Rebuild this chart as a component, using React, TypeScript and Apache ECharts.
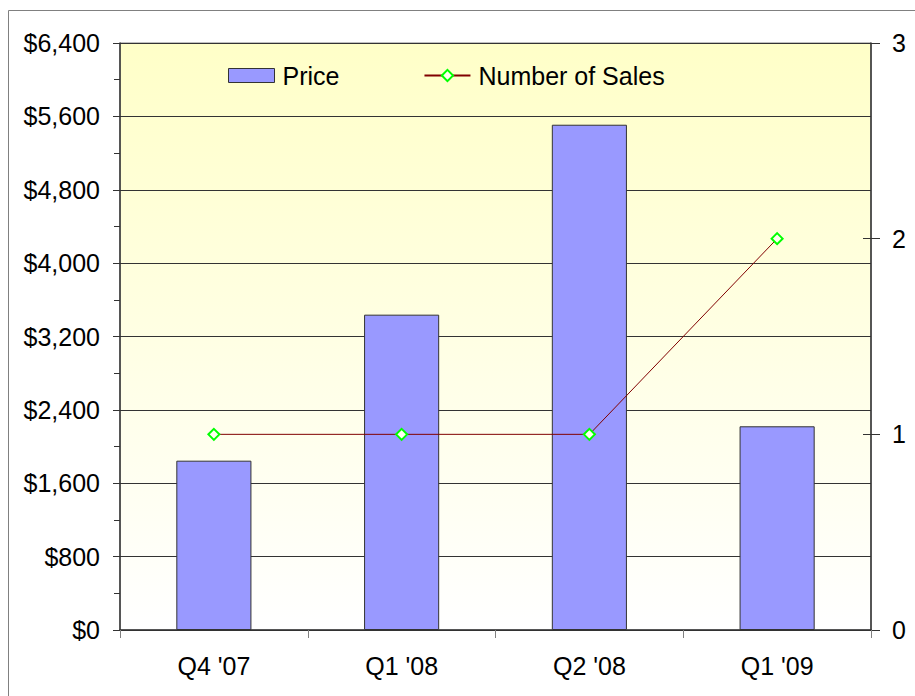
import React, { useEffect, useRef } from "react";
import * as echarts from "echarts";

const categories = ["Q4 '07", "Q1 '08", "Q2 '08", "Q1 '09"];
const priceValues = [1846, 3438, 5509, 2221];
const salesValues = [1, 1, 1, 2];

const FONT = "'Liberation Sans', Arial, sans-serif";

export default function App() {
  const ref = useRef<HTMLDivElement>(null);
  useEffect(() => {
    if (!ref.current) return;
    const chart = echarts.init(ref.current, undefined, { renderer: "svg" });
    chart.setOption({
      animation: false,
      textStyle: { fontFamily: FONT },
      graphic: [
        {
          type: "rect",
          shape: { x: 8.5, y: 10.5, width: 1000, height: 1000 },
          style: { fill: "none", stroke: "#808080", lineWidth: 1 },
          silent: true,
        },
      ],
      legend: {
        left: 228,
        top: 63,
        padding: 0,
        itemWidth: 46,
        itemHeight: 14,
        itemGap: 84,
        textStyle: { fontSize: 25, color: "#000", fontFamily: FONT, padding: [0, 0, 0, 3] },
        data: [
          { name: "Price", icon: "rect", itemStyle: { borderColor: "#333", borderWidth: 1 } },
          { name: "Number of Sales" },
        ],
      },
      grid: {
        left: 120,
        top: 43,
        right: 44,
        bottom: 66,
        show: true,
        borderColor: "#808080",
        borderWidth: 1,
        backgroundColor: {
          type: "linear",
          x: 0,
          y: 0,
          x2: 0,
          y2: 1,
          colorStops: [
            { offset: 0, color: "#FFFFC8" },
            { offset: 1, color: "#FFFFFF" },
          ],
        },
      },
      xAxis: {
        type: "category",
        data: categories,
        axisLine: { show: true, lineStyle: { color: "#333", width: 1.5 } },
        axisTick: { show: true, length: 8, lineStyle: { color: "#808080" } },
        axisLabel: { fontSize: 25, color: "#000", margin: 23, fontFamily: FONT },
      },
      yAxis: [
        {
          type: "value",
          position: "left",
          min: 0,
          max: 6400,
          interval: 800,
          axisLine: { show: true, lineStyle: { color: "#333", width: 1.5 } },
          axisTick: { show: true, length: 7, lineStyle: { color: "#333" } },
          minorTick: { show: true, splitNumber: 2, length: 6, lineStyle: { color: "#333" } },
          splitLine: { show: true, lineStyle: { color: "#333", width: 1 } },
          axisLabel: {
            fontSize: 25,
            color: "#000",
            margin: 20,
            fontFamily: FONT,
            formatter: (v: number) => "$" + v.toLocaleString("en-US"),
          },
        },
        {
          type: "value",
          position: "right",
          min: 0,
          max: 3,
          interval: 1,
          axisLine: { show: true, lineStyle: { color: "#333", width: 1.5 } },
          axisTick: { show: true, length: 9, lineStyle: { color: "#333" } },
          splitLine: { show: false },
          axisLabel: { fontSize: 25, color: "#000", margin: 21, fontFamily: FONT },
        },
        {
          type: "value",
          position: "right",
          min: 0,
          max: 3,
          interval: 1,
          axisLine: { show: false },
          axisTick: { show: true, inside: true, length: 8, lineStyle: { color: "#333" } },
          splitLine: { show: false },
          axisLabel: { show: false },
        },
      ],
      series: [
        {
          name: "Price",
          type: "bar",
          data: priceValues,
          barWidth: "40%",
          yAxisIndex: 0,
          itemStyle: { color: "#9999FF", borderColor: "#333", borderWidth: 1 },
        },
        {
          name: "Number of Sales",
          type: "line",
          data: salesValues,
          yAxisIndex: 1,
          symbol: "diamond",
          symbolSize: 11,
          lineStyle: { color: "#800000", width: 1 },
          itemStyle: { color: "#FFFFF0", borderColor: "#00FF00", borderWidth: 2 },
        },
      ],
    });
    return () => chart.dispose();
  }, []);
  return (
    <div
      ref={ref}
      style={{ position: "fixed", left: 0, top: 0, width: 915, height: 696, background: "#fff" }}
    />
  );
}
